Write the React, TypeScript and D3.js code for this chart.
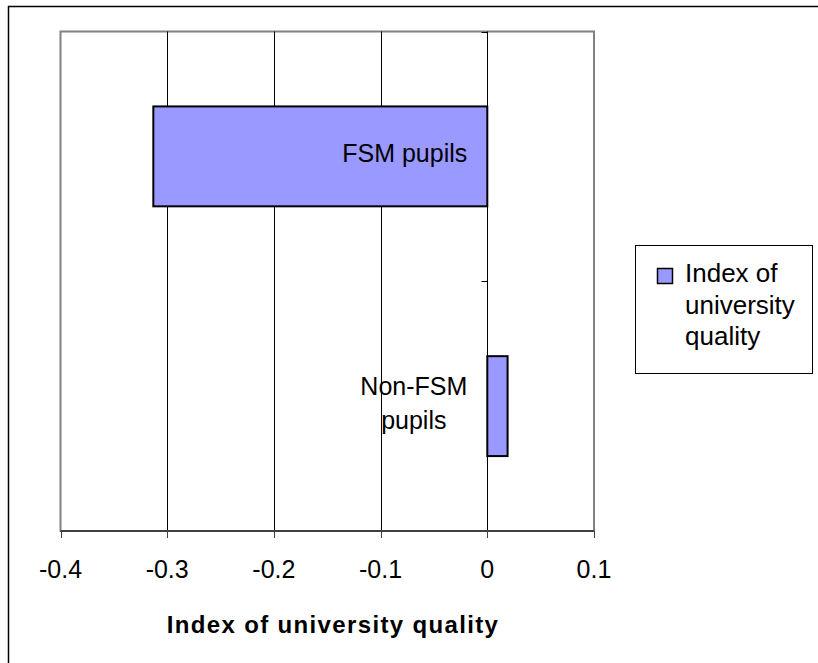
import React, { useEffect, useRef } from "react";
import * as d3 from "d3";

const categories = ["FSM pupils", "Non-FSM pupils"];
const categoryLabelLines = [["FSM pupils"], ["Non-FSM", "pupils"]];
const values = [-0.313, 0.019];
const xTicks = [-0.4, -0.3, -0.2, -0.1, 0, 0.1];
const xTickLabels = ["-0.4", "-0.3", "-0.2", "-0.1", "0", "0.1"];
const axisTitle = "Index of university quality";
const legendLines = ["Index of", "university", "quality"];

const W = 818;
const H = 663;
const FONT = "Arial, 'Liberation Sans', sans-serif";
const BAR_FILL = "#9999FF";

export default function App() {
  const ref = useRef<SVGSVGElement | null>(null);

  useEffect(() => {
    const svg = d3.select(ref.current);
    svg.selectAll("*").remove();

    const plot = { left: 60.5, right: 594, top: 31.5, bottom: 531 };
    const x = d3.scaleLinear().domain([-0.4, 0.1]).range([plot.left, plot.right]);
    const y = d3
      .scaleBand<string>()
      .domain(categories)
      .range([plot.top, plot.bottom])
      .paddingInner(0.6)
      .paddingOuter(0.3);

    // outer chart border (extends past the viewport)
    svg
      .append("rect")
      .attr("x", 8.5)
      .attr("y", 6.5)
      .attr("width", W + 20)
      .attr("height", H + 20)
      .attr("fill", "white")
      .attr("stroke", "#000")
      .attr("stroke-width", 1.5);

    // plot area
    svg
      .append("rect")
      .attr("x", plot.left)
      .attr("y", plot.top)
      .attr("width", plot.right - plot.left)
      .attr("height", plot.bottom - plot.top)
      .attr("fill", "white")
      .attr("stroke", "#808080")
      .attr("stroke-width", 2);

    // gridlines
    svg
      .append("g")
      .selectAll("line")
      .data(xTicks.filter((t) => t > -0.4 && t < 0.1 && t !== 0))
      .join("line")
      .attr("x1", (d) => Math.round(x(d)) + 0.5)
      .attr("x2", (d) => Math.round(x(d)) + 0.5)
      .attr("y1", plot.top)
      .attr("y2", plot.bottom)
      .attr("stroke", "#000")
      .attr("stroke-width", 1);

    // bars
    svg
      .append("g")
      .selectAll("rect")
      .data(values)
      .join("rect")
      .attr("x", (d) => x(Math.min(0, d)))
      .attr("width", (d) => Math.abs(x(d) - x(0)))
      .attr("y", (_d, i) => y(categories[i]) as number)
      .attr("height", y.bandwidth())
      .attr("fill", BAR_FILL)
      .attr("stroke", "#000")
      .attr("stroke-width", 2);

    // category axis at x = 0
    const x0 = Math.round(x(0)) + 0.5;
    svg
      .append("line")
      .attr("x1", x0)
      .attr("x2", x0)
      .attr("y1", plot.top)
      .attr("y2", plot.bottom)
      .attr("stroke", "#000")
      .attr("stroke-width", 1);
    const catTicks = [plot.top, ...categories.map((c) => (y(c) as number) + y.bandwidth() / 2 + y.step() / 2)];
    svg
      .append("g")
      .selectAll("line")
      .data(catTicks)
      .join("line")
      .attr("x1", x0 - 6)
      .attr("x2", x0)
      .attr("y1", (d) => Math.round(d) + 0.5)
      .attr("y2", (d) => Math.round(d) + 0.5)
      .attr("stroke", "#000")
      .attr("stroke-width", 1);

    // category labels
    categories.forEach((c, i) => {
      const lines = categoryLabelLines[i];
      const cy = (y(c) as number) + y.bandwidth() / 2;
      const g = svg.append("g");
      const texts = lines.map((line, j) =>
        g
          .append("text")
          .attr("y", cy + 5.5 + (j - (lines.length - 1) / 2) * 34)
          .attr("font-family", FONT)
          .attr("font-size", 25)
          .attr("fill", "#000")
          .attr("text-anchor", "middle")
          .text(line)
      );
      const maxW = Math.max(...texts.map((t) => (t.node() as SVGTextElement).getComputedTextLength()));
      const cx = x(0) - 20 - maxW / 2;
      texts.forEach((t) => t.attr("x", cx));
    });

    // value axis
    svg
      .append("line")
      .attr("x1", plot.left)
      .attr("x2", plot.right)
      .attr("y1", plot.bottom)
      .attr("y2", plot.bottom)
      .attr("stroke", "#404040")
      .attr("stroke-width", 2);
    svg
      .append("g")
      .selectAll("line")
      .data(xTicks)
      .join("line")
      .attr("x1", (d) => Math.round(x(d)) + 0.5)
      .attr("x2", (d) => Math.round(x(d)) + 0.5)
      .attr("y1", plot.bottom)
      .attr("y2", plot.bottom + 7)
      .attr("stroke", "#404040")
      .attr("stroke-width", 1);
    svg
      .append("g")
      .selectAll("text")
      .data(xTicks)
      .join("text")
      .attr("x", (d) => x(d))
      .attr("y", 578)
      .attr("text-anchor", "middle")
      .attr("font-family", FONT)
      .attr("font-size", 25)
      .attr("fill", "#000")
      .text((_d, i) => xTickLabels[i]);

    svg
      .append("text")
      .attr("x", 333)
      .attr("y", 633)
      .attr("text-anchor", "middle")
      .attr("font-family", FONT)
      .attr("font-size", 24)
      .attr("font-weight", "bold")
      .attr("letter-spacing", 1.35)
      .attr("fill", "#000")
      .text(axisTitle);

    // legend
    const lg = svg.append("g");
    lg.append("rect")
      .attr("x", 635.5)
      .attr("y", 245.5)
      .attr("width", 177)
      .attr("height", 128)
      .attr("fill", "white")
      .attr("stroke", "#000")
      .attr("stroke-width", 1);
    lg.append("rect")
      .attr("x", 657.5)
      .attr("y", 268.5)
      .attr("width", 15)
      .attr("height", 15)
      .attr("fill", BAR_FILL)
      .attr("stroke", "#000")
      .attr("stroke-width", 1.5);
    lg.selectAll("text.l")
      .data(legendLines)
      .join("text")
      .attr("class", "l")
      .attr("x", 685)
      .attr("y", (_d, i) => 282 + i * 31.6)
      .attr("font-family", FONT)
      .attr("font-size", 26)
      .attr("fill", "#000")
      .text((d) => d);
  }, []);

  return (
    <svg
      ref={ref}
      width={W}
      height={H}
      style={{ position: "absolute", left: 0, top: 0, display: "block" }}
    />
  );
}
